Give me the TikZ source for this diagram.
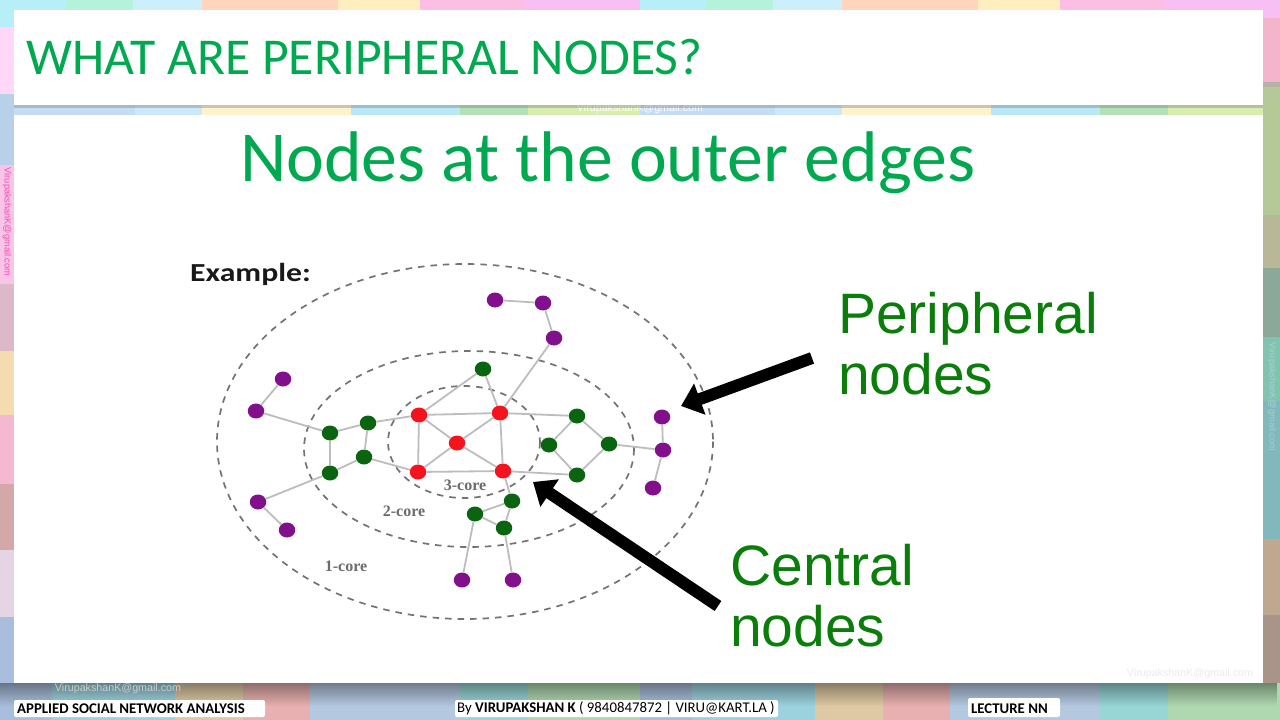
\documentclass[tikz,border=0pt]{standalone}
\usepackage{fontspec}
\setmainfont{Carlito}
\newfontfamily\arialfont{Liberation Sans}
\newfontfamily\timesfont{Liberation Serif}
\usetikzlibrary{arrows.meta,shadows,fadings,shapes.geometric}
\definecolor{slidegreen}{HTML}{00A94F}
\definecolor{labelgreen}{HTML}{0B7D0B}
\definecolor{peri}{HTML}{82108C}
\definecolor{mid}{HTML}{0B640F}
\definecolor{core}{HTML}{F5141E}
\tikzset{
  panel/.style={fill=white,draw=none},
  vert/.style={ellipse,inner sep=0pt,minimum width=16.5pt,minimum height=15pt},
  perinode/.style={vert,fill=peri},
  midnode/.style={vert,fill=mid},
  corenode/.style={vert,fill=core},
  link/.style={draw=black!26,line width=1.8pt},
  ring/.style={draw=black!55,line width=1.7pt,dash pattern=on 6.5pt off 6pt},
  corelabel/.style={font=\timesfont\bfseries\fontsize{16}{16}\selectfont,text=black!58},
  biglabel/.style={anchor=north west,align=left,inner sep=0pt,text=labelgreen,font=\arialfont\fontsize{57}{61}\selectfont},
  bigarrow/.style={line width=12pt,-{Triangle[length=20pt,width=32pt]}},
  footbox/.style={fill=white,rounded corners=2pt},
  footlabel/.style={font=\fontsize{14.8}{15}\selectfont,text=black,anchor=west,inner sep=0pt},
  mailmark/.style={font=\arialfont\fontsize{10.7}{11}\selectfont,inner sep=0pt},
  sidemark/.style={rotate=-90,font=\arialfont\fontsize{9.2}{10}\selectfont,inner sep=0pt}
}
\begin{document}
\begin{tikzpicture}[x=1pt,y=-1pt]
  \useasboundingbox (0,0) rectangle (1280,720);
  % tiles, the same pattern twice
  \foreach \o in {0,640}{
    \foreach \a/\b/\C in {0/65/B8EEF8,65/133/B5F2DC,133/202/CDEFFC,202/338/FFD5BC,338/420/FFEFC0,420/525/FBBFE4,525/640/F8BFF4}{
      \definecolor{tile}{HTML}{\C}
      \fill[tile] (\o+\a,0) rectangle (\o+\b,12);
    }
    \foreach \a/\b/\C in {0/135/C4DDF4,135/202/CDE8FA,202/351/FFF2CC,351/460/B8E8F6,460/528/B4E0B8,528/640/D8EEB0}{
      \definecolor{tile}{HTML}{\C}
      \fill[tile] (\o+\a,104) rectangle (\o+\b,116);
    }
    \foreach \a/\b/\C in {0/52/A9BEDC,52/175/9CD2DE,175/243/DEC9A4,243/310/E8B0B0,310/460/B4C8E0,460/528/98D6D6,528/640/B0D8B0}{
      \definecolor{tile}{HTML}{\C}
      \fill[tile] (\o+\a,682) rectangle (\o+\b,720);
    }
  }
  % sides
  \foreach \a/\b/\C in {0/27/B8EEF8,27/94/FFD8F8,94/165/B8D0E8,165/284/F8C4E8,284/351/DDB8C8,351/415/F4DCB0,415/484/F4B8D0,484/550/D4A8A8,550/617/E4D4E4,617/683/A9BEDC}{
    \definecolor{tile}{HTML}{\C}
    \fill[tile] (0,\a) rectangle (14,\b);
  }
  \foreach \a/\b/\C in {0/18/F8BFF4,18/82/F4B4CC,82/87/B8B0A8,87/215/B4C898,215/268/B8B898,268/337/8CA898,337/401/80C4B0,401/539/80B8BC,539/615/C0A890,615/683/A89488}{
    \definecolor{tile}{HTML}{\C}
    \fill[tile] (1263,\a) rectangle (1280,\b);
  }
  % shade under the panels
  \fill[black,path fading=south,opacity=.38] (0,683) rectangle (1280,706);
  % panels
  \node[mailmark,text=white] (topmail) at (640,109) {VirupakshanK@gmail.com};
  \node[mailmark,text=white!80!black] (footmail) at (118,689) {VirupakshanK@gmail.com};
  \node[sidemark,text=magenta!70] (leftmail) at (7,222) {VirupakshanK@gmail.com};
  \node[sidemark,text=white!65!teal] (rightmail) at (1272,397) {VirupakshanK@gmail.com};
  \fill[panel,drop shadow={shadow xshift=0pt,shadow yshift=-3pt,opacity=.4}] (14,10) rectangle (1263,105);
  \fill[panel] (14,115) rectangle (1263,683);
  \node[anchor=west,inner sep=0pt,text=slidegreen,font=\fontsize{51.7}{52}\selectfont] (title) at (26,57) {WHAT ARE PERIPHERAL NODES?};
  \node[inner sep=0pt,text=slidegreen,font=\fontsize{71.7}{72}\selectfont] (headline) at (607.5,163) {Nodes at the outer edges};
  \node[mailmark,text=black!8] (panelmail) at (1190,674) {VirupakshanK@gmail.com};
  % rings
  \draw[ring] (465,441.5) ellipse (248 and 177.5);
  \draw[ring] (469,449) ellipse (165 and 98);
  \draw[ring] (464,442) ellipse (76 and 56);
  % nodes
  \foreach \n/\x/\y in {p1/495/300,p2/543/303,p3/554/338,p4/283/379,p5/256/411,p6/258/502,p7/287/530,p8/662/417,p9/663/450,p10/653/488,p11/462/580,p12/513/580}
    \node[perinode] (\n) at (\x,\y) {};
  \foreach \n/\x/\y in {g1/483/369,g2/330/433,g3/368/423,g4/364/457,g5/330/473,g6/577/416,g7/549/445,g8/609/444,g9/577/475,g10/512/501,g11/475/514,g12/504/528}
    \node[midnode] (\n) at (\x,\y) {};
  \foreach \n/\x/\y in {r1/419/415,r2/500/413,r3/457/443,r4/418/472,r5/503/471}
    \node[corenode] (\n) at (\x,\y) {};
  % edges
  \foreach \s/\t in {p1/p2,p2/p3,p3/r2,g1/r1,g1/r2,r1/r2,r1/r3,r2/r3,r1/r4,r2/r5,r3/r4,r3/r5,r4/r5,r5/g9,r2/g6,g6/g7,g6/g8,g7/g9,g8/g9,g8/p9,p8/p9,p9/p10,p4/p5,p5/g2,g2/g3,g3/r1,g3/g4,g2/g5,g4/g5,g4/r4,g5/p6,p6/p7,r5/g10,g10/g11,g10/g12,g11/g12,g11/p11,g12/p12}
    \draw[link] (\s) -- (\t);
  % labels
  \node[anchor=west,inner sep=0pt,transform shape,xscale=1.22,font=\bfseries\fontsize{26}{26}\selectfont,text=black!90] (example) at (190,274) {Example:};
  \node[corelabel] (c3) at (465,485) {3-core};
  \node[corelabel] (c2) at (404,511) {2-core};
  \node[corelabel] (c1) at (346,566) {1-core};
  \node[biglabel] (perilabel) at (838,292) {Peripheral\\nodes};
  \node[biglabel] (centrallabel) at (730,544) {Central\\nodes};
  % arrows
  \coordinate (perifrom) at (812,358);
  \coordinate (perito) at (681,406);
  \coordinate (centralfrom) at (718,606);
  \coordinate (centralto) at (533,482);
  \draw[bigarrow] (perifrom) -- (perito);
  \draw[bigarrow] (centralfrom) -- (centralto);
  % footer
  \fill[footbox] (14,700) rectangle (265,717);
  \fill[footbox] (455,700) rectangle (778,717);
  \fill[footbox] (968,698) rectangle (1060,717);
  \node[footlabel] (footleft) at (17,708.5) {\textbf{APPLIED SOCIAL NETWORK ANALYSIS}};
  \node[footlabel] (footmid) at (457,708.5) {By \textbf{VIRUPAKSHAN K} ( 9840847872 | VIRU@KART.LA )};
  \node[footlabel] (footright) at (971,708.5) {\textbf{LECTURE NN}};
\end{tikzpicture}
\end{document}
